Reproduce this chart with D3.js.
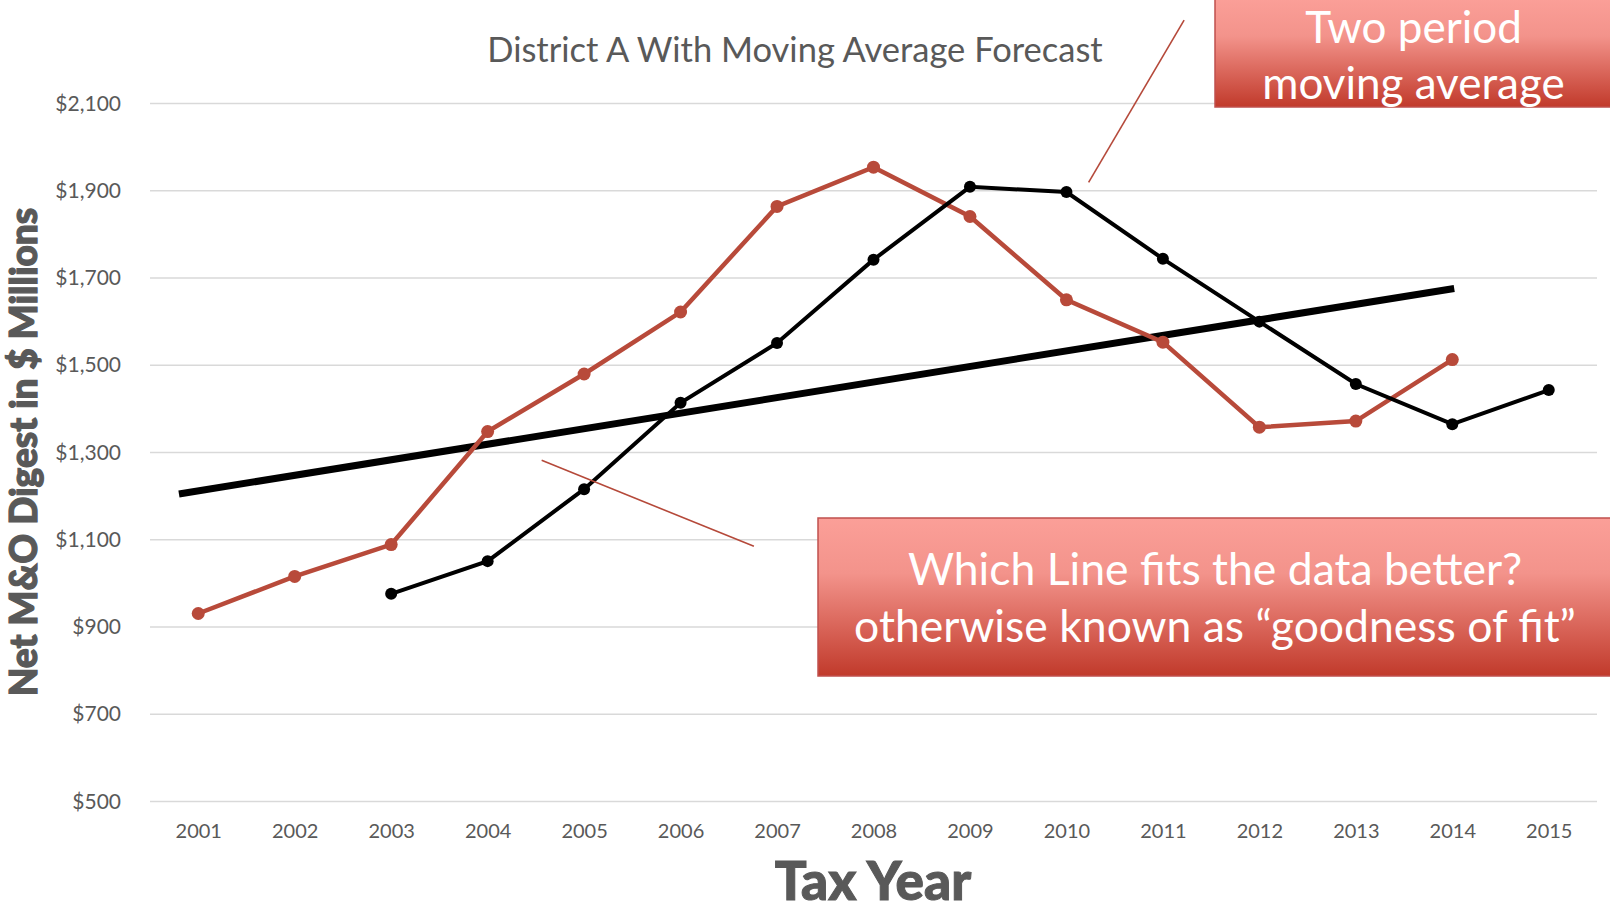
<!DOCTYPE html>
<html>
<head>
<meta charset="utf-8">
<script src="https://cdn.jsdelivr.net/npm/d3@7"></script>
<style>
  body { margin: 0; background: #fff; }
  svg { display: block; font-family: Lato, "Open Sans", sans-serif; }
</style>
</head>
<body>
<div id="chart"></div>
<script>
// data
const years = [2001, 2002, 2003, 2004, 2005, 2006, 2007, 2008, 2009, 2010, 2011, 2012, 2013, 2014, 2015];
const actualYears = [2001, 2002, 2003, 2004, 2005, 2006, 2007, 2008, 2009, 2010, 2011, 2012, 2013, 2014];
const actualValues = [931, 1016, 1089, 1348, 1480, 1622, 1864, 1954, 1841, 1650, 1553, 1358, 1372, 1513];
const maYears = [2003, 2004, 2005, 2006, 2007, 2008, 2009, 2010, 2011, 2012, 2013, 2014, 2015];
const maValues = [976, 1051, 1216, 1414, 1551, 1742, 1909, 1897, 1744, 1600, 1457, 1365, 1443];
const trendYears = [2000.8, 2014.02];
const trendValues = [1205, 1676];
const yTicks = [500, 700, 900, 1100, 1300, 1500, 1700, 1900, 2100];

// annotation pointers, in data units
const pointers = [
  { x1: 2010.23, y1: 1919, x2: 2011.22, y2: 2291 },
  { x1: 2004.56, y1: 1282, x2: 2006.76, y2: 1085 }
];

const W = 1610, H = 910;
const svg = d3.select("#chart").append("svg")
  .attr("width", W)
  .attr("height", H);

const x = d3.scaleLinear().domain([2000.5, 2015.5]).range([150, 1597]);
const y = d3.scaleLinear().domain([500, 2100]).range([801.5, 103.5]);

const defs = svg.append("defs");
const grad = defs.append("linearGradient")
  .attr("id", "boxGrad")
  .attr("x1", 0).attr("y1", 0).attr("x2", 0).attr("y2", 1);
grad.append("stop").attr("offset", "0%").attr("stop-color", "#fb9f98");
grad.append("stop").attr("offset", "35%").attr("stop-color", "#f3938b");
grad.append("stop").attr("offset", "100%").attr("stop-color", "#c13a2b");

// gridlines
svg.append("g")
  .selectAll("line")
  .data(yTicks)
  .enter()
  .append("line")
  .attr("x1", x.range()[0])
  .attr("x2", x.range()[1])
  .attr("y1", d => y(d))
  .attr("y2", d => y(d))
  .attr("stroke", "#d9d9d9")
  .attr("stroke-width", 1.5);

// axes
const yAxis = svg.append("g")
  .attr("transform", `translate(${x.range()[0]},0)`)
  .call(d3.axisLeft(y).tickValues(yTicks).tickFormat(d3.format("$,")).tickSize(0).tickPadding(29));
yAxis.select(".domain").remove();
yAxis.selectAll("text")
  .attr("fill", "#595959")
  .style("font-size", "21px")
  .style("font-family", "Lato, sans-serif");

const xAxis = svg.append("g")
  .attr("transform", `translate(0,${y(500)})`)
  .call(d3.axisBottom(x).tickValues(years).tickFormat(d3.format("d")).tickSize(0).tickPadding(22));
xAxis.select(".domain").remove();
xAxis.selectAll("text")
  .attr("fill", "#595959")
  .style("font-size", "20px")
  .style("font-family", "Lato, sans-serif");

// titles
svg.append("text")
  .attr("x", 795).attr("y", 62)
  .attr("text-anchor", "middle")
  .attr("fill", "#595959")
  .style("font-size", "34.5px")
  .text("District A With Moving Average Forecast");

svg.append("text")
  .attr("transform", "translate(37,452) rotate(-90)")
  .attr("text-anchor", "middle")
  .attr("fill", "#595959")
  .attr("stroke", "#595959")
  .attr("stroke-width", 1.2)
  .style("font-size", "37px")
  .style("font-weight", 900)
  .text("Net M&O Digest in $ Millions");

svg.append("text")
  .attr("x", 873).attr("y", 900)
  .attr("text-anchor", "middle")
  .attr("fill", "#595959")
  .attr("stroke", "#595959")
  .attr("stroke-width", 1)
  .style("font-size", "53px")
  .style("font-weight", 900)
  .text("Tax Year");

const line = d3.line().x(d => x(d[0])).y(d => y(d[1]));

// trend line
svg.append("path")
  .datum(d3.zip(trendYears, trendValues))
  .attr("d", line)
  .attr("fill", "none")
  .attr("stroke", "#000")
  .attr("stroke-width", 7);

// actual series
const actual = d3.zip(actualYears, actualValues);
svg.append("path")
  .datum(actual)
  .attr("d", line)
  .attr("fill", "none")
  .attr("stroke", "#b84a3a")
  .attr("stroke-width", 4.5);
svg.append("g")
  .selectAll("circle")
  .data(actual)
  .enter()
  .append("circle")
  .attr("cx", d => x(d[0]))
  .attr("cy", d => y(d[1]))
  .attr("r", 6.5)
  .attr("fill", "#b84a3a");

// moving average series
const ma = d3.zip(maYears, maValues);
svg.append("path")
  .datum(ma)
  .attr("d", line)
  .attr("fill", "none")
  .attr("stroke", "#000")
  .attr("stroke-width", 4);
svg.append("g")
  .selectAll("circle")
  .data(ma)
  .enter()
  .append("circle")
  .attr("cx", d => x(d[0]))
  .attr("cy", d => y(d[1]))
  .attr("r", 6)
  .attr("fill", "#000");

// pointer lines
svg.append("g")
  .selectAll("line")
  .data(pointers)
  .enter()
  .append("line")
  .attr("x1", d => x(d.x1))
  .attr("y1", d => y(d.y1))
  .attr("x2", d => x(d.x2))
  .attr("y2", d => y(d.y2))
  .attr("stroke", "#b5493a")
  .attr("stroke-width", 1.6);

// callout boxes
function callout(x0, y0, x1, y1, lines, size, baselines) {
  svg.append("rect")
    .attr("x", x0).attr("y", y0)
    .attr("width", x1 - x0).attr("height", y1 - y0)
    .attr("fill", "url(#boxGrad)")
    .attr("stroke", "#c0504d")
    .attr("stroke-width", 1.5);
  lines.forEach((t, i) => {
    svg.append("text")
      .attr("x", (x0 + x1) / 2)
      .attr("y", baselines[i])
      .attr("text-anchor", "middle")
      .attr("fill", "#fff")
      .style("font-size", size + "px")
      .text(t);
  });
}

callout(1215, -2, 1612, 107, ["Two period", "moving average"], 44, [43, 99]);
callout(818, 518, 1612, 676, ["Which Line fits the data better?", "otherwise known as \u201cgoodness of fit\u201d"], 44.5, [585, 642]);
</script>
</body>
</html>
